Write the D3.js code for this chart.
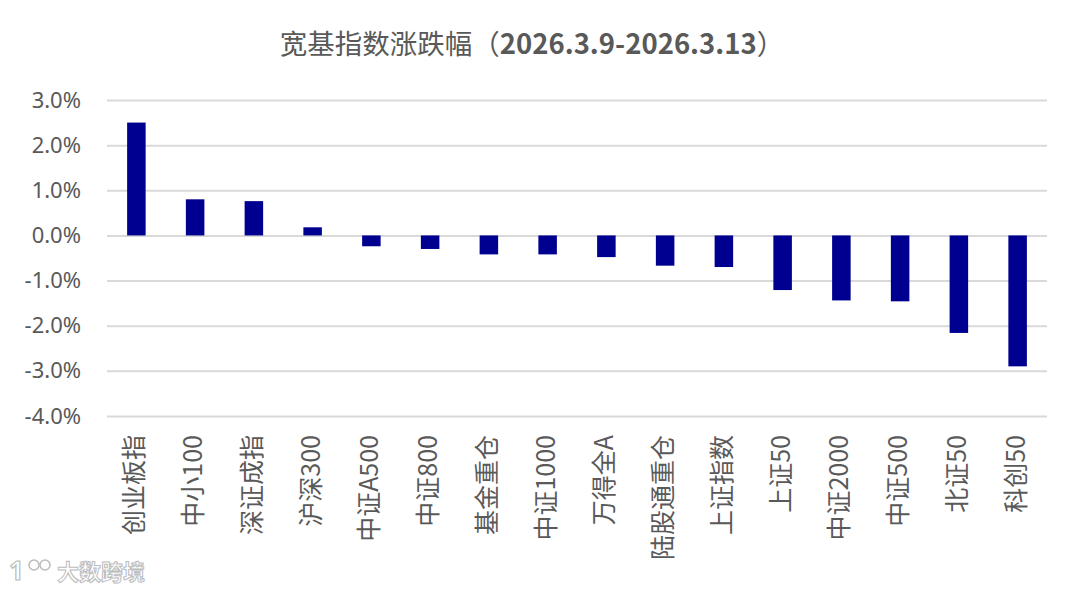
<!DOCTYPE html>
<html>
<head>
<meta charset="utf-8">
<script src="https://cdn.jsdelivr.net/npm/d3@7"></script>
<style>
  body { margin: 0; background: #fff; }
  svg { display: block; }
</style>
</head>
<body>
<svg id="chart" width="1080" height="590"></svg>
<script>
/*** DATA ***/
const categories = ['创业板指', '中小100', '深证成指', '沪深300', '中证A500', '中证800', '基金重仓', '中证1000',
  '万得全A', '陆股通重仓', '上证指数', '上证50', '中证2000', '中证500', '北证50', '科创50'];
const changes = [2.50, 0.80, 0.76, 0.18, -0.24, -0.30, -0.42, -0.42,
  -0.48, -0.67, -0.70, -1.21, -1.44, -1.46, -2.16, -2.90];
const yTicks = [3, 2, 1, 0, -1, -2, -3, -4];

/*** CONSTANTS ***/
const WIDTH = 1080, HEIGHT = 590;
const margin = { top: 100, right: 33, bottom: 174, left: 107 };
const BAR_COLOR = '#000090';
const TEXT_COLOR = '#595959';
const GRID_COLOR = '#d9d9d9';

const svg = d3.select('#chart');

const x = d3.scaleBand()
  .domain(categories)
  .range([margin.left, WIDTH - margin.right])
  .paddingInner(0.685)
  .paddingOuter(0.3425);

const y = d3.scaleLinear()
  .domain([-4, 3])
  .range([HEIGHT - margin.bottom, margin.top]);

// title
const title = svg.append('text')
  .attr('x', 532)
  .attr('y', 54)
  .attr('text-anchor', 'middle')
  .attr('fill', TEXT_COLOR)
  .style('font-family', '"Noto Sans CJK SC", "Noto Sans", sans-serif')
  .style('font-size', '27.5px');
title.append('tspan').text('宽基指数涨跌幅（');
title.append('tspan').attr('font-weight', 'bold').text('2026.3.9-2026.3.13');
title.append('tspan').text('）');

// gridlines + y axis
const yAxis = g => g
  .attr('transform', `translate(${margin.left},0)`)
  .call(d3.axisLeft(y).tickValues(yTicks).tickFormat(d => d.toFixed(1) + '%')
    .tickSize(-(WIDTH - margin.left - margin.right)).tickPadding(26))
  .call(g => g.select('.domain').remove())
  .call(g => g.selectAll('.tick line').attr('stroke', GRID_COLOR).attr('stroke-width', 2))
  .call(g => g.selectAll('.tick text')
    .attr('fill', TEXT_COLOR)
    .style('font-family', '"Noto Sans", sans-serif')
    .style('font-size', '22px'));

svg.append('g').call(yAxis);

// bars
svg.append('g')
  .selectAll('rect')
  .data(categories)
  .join('rect')
  .attr('x', d => x(d))
  .attr('width', x.bandwidth())
  .attr('y', (d, i) => y(Math.max(0, changes[i])))
  .attr('height', (d, i) => Math.abs(y(changes[i]) - y(0)))
  .attr('fill', BAR_COLOR);

// category labels (rotated)
svg.append('g')
  .selectAll('text')
  .data(categories)
  .join('text')
  .attr('transform', d => `translate(${x(d) + x.bandwidth() / 2 + 7},${y(-4) + 19}) rotate(-90)`)
  .attr('text-anchor', 'end')
  .attr('fill', TEXT_COLOR)
  .style('font-family', '"Noto Sans CJK SC", "Noto Sans", sans-serif')
  .style('font-size', '25px')
  .text(d => d);

// watermark
const wm = svg.append('g').attr('transform', 'translate(9,580)');
wm.append('text')
  .attr('x', 0)
  .attr('y', 0)
  .attr('fill', '#fff')
  .attr('stroke', '#bbb')
  .attr('stroke-width', 1.2)
  .style('font-family', '"Noto Sans", sans-serif')
  .style('font-size', '26px')
  .style('font-weight', 'bold')
  .text('1');
wm.append('circle').attr('cx', 25).attr('cy', -15).attr('r', 5).attr('fill', 'none').attr('stroke', '#bbb').attr('stroke-width', 1.5);
wm.append('circle').attr('cx', 36).attr('cy', -15).attr('r', 5).attr('fill', 'none').attr('stroke', '#bbb').attr('stroke-width', 1.5);
wm.append('text')
  .attr('x', 48)
  .attr('y', 0)
  .attr('fill', '#fff')
  .attr('stroke', '#bbb')
  .attr('stroke-width', 1)
  .style('font-family', '"Noto Sans CJK SC", sans-serif')
  .style('font-size', '22px')
  .style('font-weight', 'bold')
  .text('大数跨境');
</script>
</body>
</html>
